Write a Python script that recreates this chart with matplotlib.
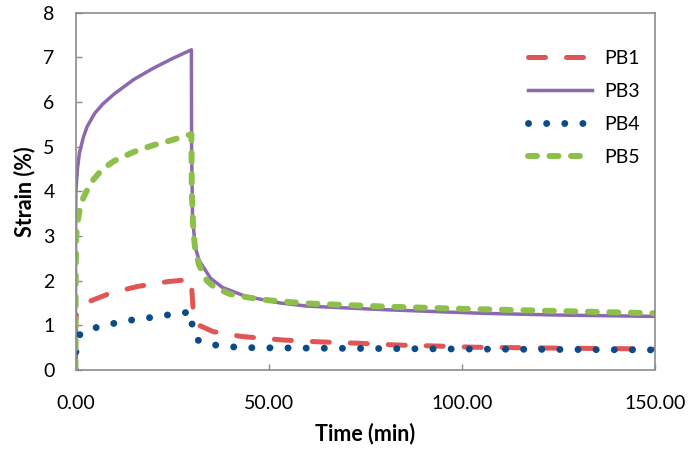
import matplotlib
matplotlib.use("Agg")
import matplotlib.pyplot as plt

# ---- data ----
t_pb1 = [0, 0.05, 0.3, 1, 2, 4, 9, 16, 24, 29, 30, 30.1, 30.5, 31, 32, 35.6, 43, 54, 63, 73, 83, 92, 103, 125, 150]
s_pb1 = [0, 1.1, 1.25, 1.35, 1.45, 1.55, 1.72, 1.87, 1.98, 2.02, 2.03, 1.8, 1.3, 1.1, 1.0, 0.86, 0.75, 0.67, 0.63, 0.6, 0.56, 0.54, 0.51, 0.49, 0.47]

t_pb3 = [0, 0.02, 0.1, 0.5, 1, 2, 3, 5, 7, 10, 15, 20, 25, 30, 30.05, 30.3, 31, 32, 35, 38, 44, 53, 60, 80, 105, 125, 150]
s_pb3 = [0, 3.0, 4.0, 4.5, 4.85, 5.2, 5.45, 5.75, 5.95, 6.18, 6.5, 6.75, 6.97, 7.17, 5.0, 3.4, 2.75, 2.45, 2.05, 1.85, 1.65, 1.5, 1.43, 1.35, 1.27, 1.23, 1.2]

t_pb4 = [0, 0.05, 0.2, 0.5, 1, 2, 4, 8, 12, 16, 21, 25, 29, 30, 30.2, 31, 32, 35, 40, 45, 60, 80, 100, 125, 150]
s_pb4 = [0, 0.3, 0.6, 0.72, 0.78, 0.86, 0.92, 1.01, 1.08, 1.14, 1.19, 1.25, 1.29, 1.3, 1.0, 0.72, 0.65, 0.57, 0.52, 0.5, 0.49, 0.48, 0.47, 0.46, 0.45]

t_pb5 = [0, 0.05, 0.2, 0.5, 1, 2, 4, 7, 10, 15, 20, 25, 30, 30.1, 30.5, 31, 32, 34, 36, 40, 45, 50, 60, 80, 100, 125, 150]
s_pb5 = [0, 2.0, 3.0, 3.3, 3.55, 3.85, 4.2, 4.5, 4.68, 4.88, 5.03, 5.15, 5.28, 4.0, 3.1, 2.7, 2.35, 2.0, 1.85, 1.7, 1.62, 1.56, 1.49, 1.42, 1.37, 1.32, 1.27]

x_ticks = [0, 50, 100, 150]
y_ticks = [0, 1, 2, 3, 4, 5, 6, 7, 8]

plt.rcParams['font.family'] = ['Lato', 'DejaVu Sans']

fig = plt.figure(figsize=(6.98, 4.57), dpi=100)
ax = fig.add_axes([75.5/698, 1 - 370/457, (655 - 75.5)/698, (370 - 12.7)/457])

l1, = ax.plot(t_pb1, s_pb1, color='#E05555', lw=3.6, linestyle=(0, (3.4, 4.2)),
              dash_capstyle='round', label='PB1')
l3, = ax.plot(t_pb3, s_pb3, color='#8C68B0', lw=2.5, label='PB3')
l4, = ax.plot(t_pb4, s_pb4, color='#0B4C88', lw=5.0, linestyle=(0, (0.01, 2.6)),
              dash_capstyle='round', label='PB4')
l5, = ax.plot(t_pb5, s_pb5, color='#8CC04A', lw=4.3, linestyle=(0, (1.5, 2.1)),
              dash_capstyle='round', label='PB5')

ax.set_xlim(0, 150)
ax.set_ylim(0, 8)
ax.set_xticks(x_ticks)
ax.set_xticklabels([f"{v:.2f}" for v in x_ticks])
ax.set_yticks(y_ticks)
ax.set_yticklabels([str(v) for v in y_ticks])

for sp in ax.spines.values():
    sp.set_color('#8C8C8C')
    sp.set_linewidth(1.2)

ax.tick_params(axis='both', direction='in', length=4, width=1, color='#8C8C8C',
               labelsize=14, labelcolor='black')
ax.tick_params(axis='y', pad=15)
ax.tick_params(axis='x', pad=18)

ax.set_xlabel('Time (min)', fontsize=15.5, fontweight='bold', labelpad=8)
ax.set_ylabel('Strain (%)', fontsize=15.5, fontweight='bold', labelpad=6)

leg = ax.legend(handles=[l1, l3, l4, l5], loc='upper left',
                bbox_to_anchor=(528/698, 1 - 50/457), bbox_transform=fig.transFigure,
                frameon=False, fontsize=14, handlelength=3.3, handletextpad=0.6,
                labelspacing=0.82, borderpad=0, borderaxespad=0)

fig.savefig('out.png', dpi=100)
